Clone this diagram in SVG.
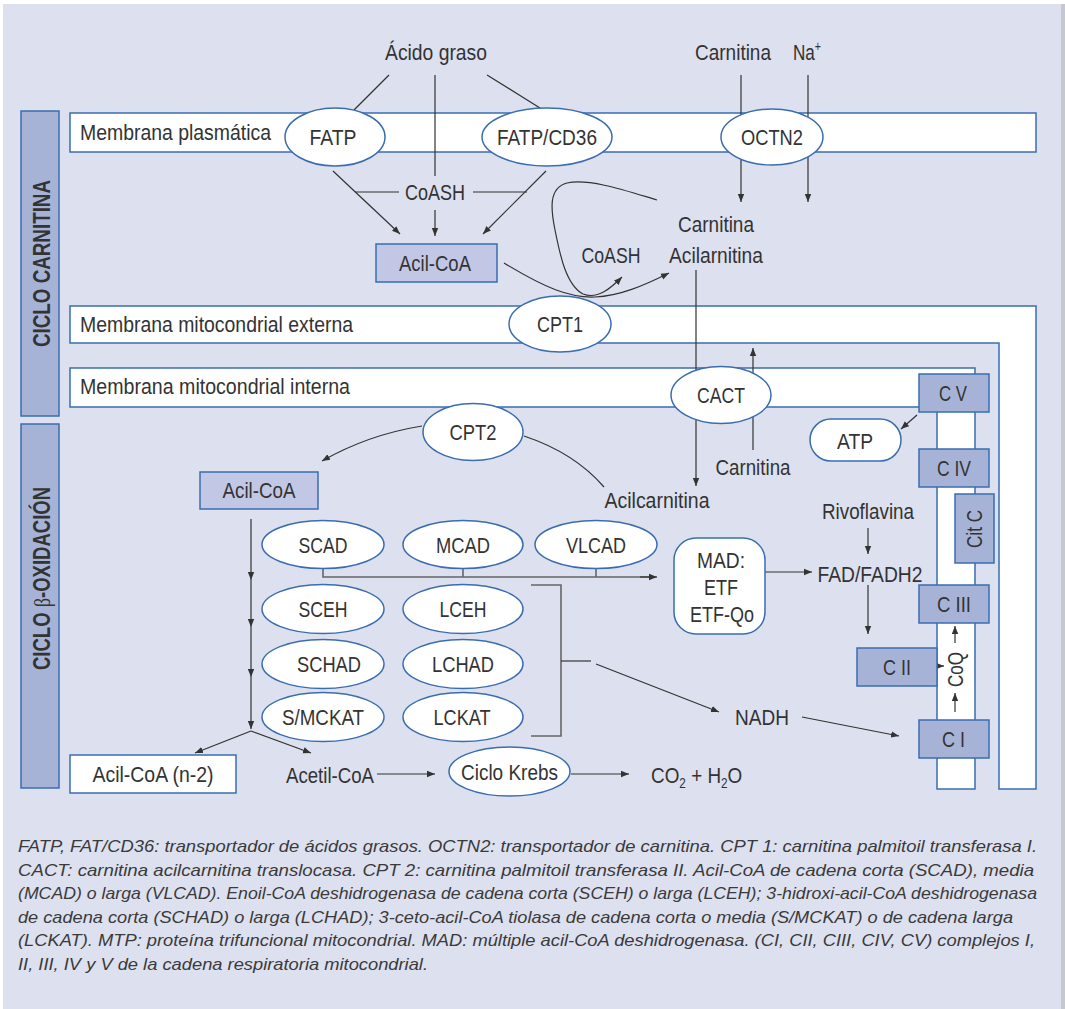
<svg xmlns="http://www.w3.org/2000/svg" width="1065" height="1009" viewBox="0 0 1065 1009">
<style>
.t{font-family:"Liberation Sans",Arial,sans-serif;font-size:22.5px;fill:#333}
.sm{font-size:14px}
.m{text-anchor:middle}
.b{font-weight:bold;font-size:23px;fill:#333}
.cap{font-family:"Liberation Sans",Arial,sans-serif;font-size:17px;font-style:italic;fill:#3a3a3a}
.mem{fill:#fff;stroke:#3a6db0;stroke-width:1.5}
.ell{fill:#fff;stroke:#3a6db0;stroke-width:1.5}
.cx{fill:#a6b3d7;stroke:#3a6db0;stroke-width:1.5}
.box{fill:#c1c7e4;stroke:#3a6db0;stroke-width:1.5}
.ln{stroke:#333;stroke-width:1.2;fill:none}
.gl{stroke:#666;stroke-width:1.6;fill:none}
.ar{marker-end:url(#ah)}
</style>
<defs>
<marker id="ah" viewBox="0 0 10 10" refX="10" refY="5" markerWidth="8" markerHeight="8" markerUnits="userSpaceOnUse" orient="auto">
<path d="M0,1 L10,5 L0,9 z" fill="#333"/>
</marker>
</defs>

<rect x="3" y="4" width="1059" height="1005" fill="#dde0ef"/>
<rect x="1061" y="4" width="4" height="1005" fill="#c6c8d0"/>

<g id="bar-carnitina">
<rect class="cx" x="21" y="111" width="38" height="305"/>
<text class="t b m" transform="translate(50,263.5) rotate(-90)" textLength="167" lengthAdjust="spacingAndGlyphs">CICLO CARNITINA</text>
</g>
<g id="bar-beta">
<rect class="cx" x="21" y="424" width="38" height="364"/>
<text class="t b m" transform="translate(50,578.5) rotate(-90)" textLength="183" lengthAdjust="spacingAndGlyphs">CICLO <tspan font-family="'Liberation Serif',serif" font-weight="normal">β</tspan>-OXIDACIÓN</text>
</g>

<g id="membrana-plasmatica">
<rect class="mem" x="70" y="113" width="966" height="39"/>
<text class="t" x="80" y="140" textLength="191" lengthAdjust="spacingAndGlyphs">Membrana plasmática</text>
</g>
<g id="membrana-externa">
<polygon class="mem" points="70,306 1036,306 1036,789 999,789 999,343 70,343"/>
<text class="t" x="80" y="332" textLength="273" lengthAdjust="spacingAndGlyphs">Membrana mitocondrial externa</text>
</g>
<g id="membrana-interna">
<polygon class="mem" points="70,368 975,368 975,789 937,789 937,407 70,407"/>
<text class="t" x="80" y="394" textLength="270" lengthAdjust="spacingAndGlyphs">Membrana mitocondrial interna</text>
</g>

<g id="connectors">
<line class="ln" x1="389" y1="75" x2="354" y2="110"/>
<line class="ln" x1="487" y1="75" x2="540" y2="108"/>
<line class="ln" x1="435" y1="75" x2="435" y2="176"/>
<line class="ln" x1="355" y1="192" x2="399" y2="192"/>
<line class="ln" x1="473" y1="192" x2="527" y2="192"/>
<line class="ln ar" x1="333" y1="171" x2="400" y2="234"/>
<line class="ln ar" x1="546" y1="171" x2="483" y2="234"/>
<line class="ln ar" x1="435" y1="210" x2="435" y2="236"/>
<line class="ln ar" x1="741" y1="75" x2="741" y2="202"/>
<line class="ln ar" x1="808" y1="75" x2="808" y2="202"/>
<path class="ln ar" d="M504,263 C545,288 570,298 595,297 C620,296 645,285 669,273"/>
<path class="ln ar" d="M657,200 C630,192 590,178 567,183 C548,188 551,210 555,230 C560,255 566,285 583,294 C598,300 612,287 622,277"/>
<line class="ln ar" x1="696" y1="270" x2="696" y2="486"/>
<line class="ln ar" x1="753" y1="450" x2="753" y2="348"/>
<path class="ln ar" d="M422,426 C385,432 350,445 322,461"/>
<path class="ln" d="M524,436 C560,448 585,465 604,487"/>
<line class="ln ar" x1="251" y1="519" x2="251" y2="580"/>
<line class="ln ar" x1="251" y1="580" x2="251" y2="627"/>
<line class="ln ar" x1="251" y1="627" x2="251" y2="677"/>
<line class="ln ar" x1="251" y1="677" x2="251" y2="729"/>
<line class="ln ar" x1="251" y1="731" x2="195" y2="753"/>
<line class="ln ar" x1="251" y1="731" x2="311" y2="753"/>
<path class="gl" d="M323,568 V577 H655"/>
<line class="ln ar" x1="640" y1="577" x2="657" y2="577"/>
<line class="gl" x1="463" y1="568" x2="463" y2="577"/>
<line class="gl" x1="596" y1="568" x2="596" y2="577"/>
<path class="gl" d="M531,585 H561 V736 H531"/>
<line class="ln" x1="561" y1="661" x2="591" y2="661"/>
<line class="ln ar" x1="596" y1="664" x2="719" y2="712"/>
<line class="ln ar" x1="802" y1="717" x2="899" y2="736"/>
<line class="ln ar" x1="765" y1="572" x2="812" y2="572"/>
<line class="ln ar" x1="868" y1="528" x2="868" y2="554"/>
<line class="ln ar" x1="868" y1="585" x2="868" y2="634"/>
<line class="ln ar" x1="919" y1="666" x2="944" y2="666"/>
<line class="ln ar" x1="955" y1="712" x2="955" y2="693"/>
<line class="ln ar" x1="955" y1="643" x2="955" y2="626"/>
<line class="ln ar" x1="917" y1="415" x2="901" y2="429"/>
<line class="ln ar" x1="377" y1="774" x2="435" y2="774"/>
<line class="ln ar" x1="571" y1="774" x2="629" y2="774"/>
</g>

<g id="acido-graso"><text class="t m" x="436" y="60" textLength="102" lengthAdjust="spacingAndGlyphs">Ácido graso</text></g>
<g id="carnitina-ext"><text class="t m" x="733" y="60" textLength="76" lengthAdjust="spacingAndGlyphs">Carnitina</text></g>
<g id="na"><text class="t" transform="translate(793,60) scale(0.76,1)">Na<tspan class="sm" dy="-9">+</tspan></text></g>

<g id="fatp"><ellipse class="ell" cx="335" cy="137" rx="50" ry="29"/><text class="t m" x="333" y="145" textLength="47" lengthAdjust="spacingAndGlyphs">FATP</text></g>
<g id="fatp-cd36"><ellipse class="ell" cx="547" cy="137" rx="65" ry="29"/><text class="t m" x="547" y="145" textLength="100" lengthAdjust="spacingAndGlyphs">FATP/CD36</text></g>
<g id="octn2"><ellipse class="ell" cx="772" cy="137" rx="51" ry="28"/><text class="t m" x="772" y="145" textLength="62" lengthAdjust="spacingAndGlyphs">OCTN2</text></g>

<g id="coash-1"><text class="t m" x="435" y="200" textLength="60" lengthAdjust="spacingAndGlyphs">CoASH</text></g>
<g id="acil-coa-1"><rect class="box" x="376" y="244" width="121" height="38"/><text class="t m" x="435" y="271" textLength="72" lengthAdjust="spacingAndGlyphs">Acil-CoA</text></g>
<g id="carnitina-acil"><text class="t m" x="716" y="232" textLength="76" lengthAdjust="spacingAndGlyphs">Carnitina</text><text class="t m" x="716" y="263" textLength="94" lengthAdjust="spacingAndGlyphs">Acilarnitina</text></g>
<g id="coash-2"><text class="t m" x="611" y="263" textLength="59" lengthAdjust="spacingAndGlyphs">CoASH</text></g>

<g id="cpt1"><ellipse class="ell" cx="560" cy="324" rx="51" ry="28"/><text class="t m" x="560" y="332" textLength="46" lengthAdjust="spacingAndGlyphs">CPT1</text></g>
<g id="cact"><ellipse class="ell" cx="721" cy="395" rx="50" ry="28.5"/><text class="t m" x="721" y="403" textLength="48" lengthAdjust="spacingAndGlyphs">CACT</text></g>
<g id="cpt2"><ellipse class="ell" cx="473" cy="432" rx="50" ry="28.5"/><text class="t m" x="473" y="440" textLength="47" lengthAdjust="spacingAndGlyphs">CPT2</text></g>
<g id="carnitina-int"><text class="t m" x="753" y="475" textLength="75" lengthAdjust="spacingAndGlyphs">Carnitina</text></g>
<g id="acilcarnitina"><text class="t m" x="657" y="508" textLength="105" lengthAdjust="spacingAndGlyphs">Acilcarnitina</text></g>
<g id="acil-coa-2"><rect class="box" x="200" y="472" width="118" height="37"/><text class="t m" x="259" y="498" textLength="73" lengthAdjust="spacingAndGlyphs">Acil-CoA</text></g>

<g id="scad"><ellipse class="ell" cx="323" cy="544.5" rx="61" ry="24"/><text class="t m" x="323" y="552.5" textLength="49" lengthAdjust="spacingAndGlyphs">SCAD</text></g>
<g id="mcad"><ellipse class="ell" cx="463" cy="544.5" rx="60" ry="24"/><text class="t m" x="463" y="552.5" textLength="54" lengthAdjust="spacingAndGlyphs">MCAD</text></g>
<g id="vlcad"><ellipse class="ell" cx="596" cy="544.5" rx="61" ry="24"/><text class="t m" x="596" y="552.5" textLength="60" lengthAdjust="spacingAndGlyphs">VLCAD</text></g>
<g id="sceh"><ellipse class="ell" cx="323" cy="609" rx="61" ry="24.5"/><text class="t m" x="323" y="617" textLength="49" lengthAdjust="spacingAndGlyphs">SCEH</text></g>
<g id="lceh"><ellipse class="ell" cx="463" cy="609" rx="60" ry="24.5"/><text class="t m" x="463" y="617" textLength="47" lengthAdjust="spacingAndGlyphs">LCEH</text></g>
<g id="schad"><ellipse class="ell" cx="323" cy="664" rx="61" ry="24.5"/><text class="t m" x="329" y="672" textLength="64" lengthAdjust="spacingAndGlyphs">SCHAD</text></g>
<g id="lchad"><ellipse class="ell" cx="463" cy="664" rx="60" ry="24.5"/><text class="t m" x="463" y="672" textLength="62" lengthAdjust="spacingAndGlyphs">LCHAD</text></g>
<g id="smckat"><ellipse class="ell" cx="323" cy="717" rx="61" ry="24.5"/><text class="t m" x="323" y="725" textLength="82" lengthAdjust="spacingAndGlyphs">S/MCKAT</text></g>
<g id="lckat"><ellipse class="ell" cx="463" cy="717" rx="60" ry="24.5"/><text class="t m" x="462" y="725" textLength="57" lengthAdjust="spacingAndGlyphs">LCKAT</text></g>

<g id="acil-coa-n2"><rect class="mem" x="70" y="755" width="166" height="38"/><text class="t m" x="153" y="782" textLength="121" lengthAdjust="spacingAndGlyphs">Acil-CoA (n-2)</text></g>
<g id="acetil-coa"><text class="t m" x="330" y="783" textLength="88" lengthAdjust="spacingAndGlyphs">Acetil-CoA</text></g>
<g id="ciclo-krebs"><ellipse class="ell" cx="509.5" cy="771.5" rx="60.5" ry="24.5"/><text class="t m" x="509.5" y="780" textLength="97" lengthAdjust="spacingAndGlyphs">Ciclo Krebs</text></g>
<g id="co2-h2o"><text class="t" transform="translate(651,783) scale(0.84,1)">CO<tspan class="sm" dy="5">2</tspan><tspan dy="-5"> + H</tspan><tspan class="sm" dy="5">2</tspan><tspan dy="-5">O</tspan></text></g>

<g id="mad"><rect class="ell" x="674" y="538" width="91" height="96" rx="22"/>
<text class="t m" x="721" y="568" textLength="48" lengthAdjust="spacingAndGlyphs">MAD:</text><text class="t m" x="721" y="595" textLength="34" lengthAdjust="spacingAndGlyphs">ETF</text><text class="t m" x="722" y="622" textLength="64" lengthAdjust="spacingAndGlyphs">ETF-Qo</text></g>
<g id="rivoflavina"><text class="t m" x="868" y="519" textLength="92" lengthAdjust="spacingAndGlyphs">Rivoflavina</text></g>
<g id="fad"><text class="t m" x="870" y="582" textLength="105" lengthAdjust="spacingAndGlyphs">FAD/FADH2</text></g>
<g id="nadh"><text class="t m" x="762" y="725" textLength="54" lengthAdjust="spacingAndGlyphs">NADH</text></g>
<g id="atp"><rect class="ell" x="810" y="419" width="91" height="42" rx="21"/><text class="t m" x="855" y="449" textLength="36" lengthAdjust="spacingAndGlyphs">ATP</text></g>

<g id="c-v"><rect class="cx" x="919" y="374" width="70" height="38"/><text class="t m" x="953" y="401" textLength="28" lengthAdjust="spacingAndGlyphs">C V</text></g>
<g id="c-iv"><rect class="cx" x="919" y="449" width="70" height="38"/><text class="t m" x="954" y="476" textLength="34" lengthAdjust="spacingAndGlyphs">C IV</text></g>
<g id="cit-c"><rect class="cx" x="955" y="494" width="39" height="69"/><text class="t m" transform="translate(982,529) rotate(-90)" textLength="38" lengthAdjust="spacingAndGlyphs">Cit C</text></g>
<g id="c-iii"><rect class="cx" x="919" y="585" width="70" height="38"/><text class="t m" x="954" y="612" textLength="34" lengthAdjust="spacingAndGlyphs">C III</text></g>
<g id="c-ii"><rect class="cx" x="857" y="648" width="80" height="38"/><text class="t m" x="897" y="675" textLength="28" lengthAdjust="spacingAndGlyphs">C II</text></g>
<g id="coq"><text class="t m" transform="translate(963,669.5) rotate(-90)" textLength="35" lengthAdjust="spacingAndGlyphs">CoQ</text></g>
<g id="c-i"><rect class="cx" x="919" y="720" width="70" height="38"/><text class="t m" x="953.5" y="747" textLength="23" lengthAdjust="spacingAndGlyphs">C I</text></g>

<g id="caption">
<text class="cap" x="18" y="852" textLength="1019" lengthAdjust="spacingAndGlyphs">FATP, FAT/CD36: transportador de ácidos grasos. OCTN2: transportador de carnitina. CPT 1: carnitina palmitoil transferasa I.</text>
<text class="cap" x="18" y="875.5" textLength="1016" lengthAdjust="spacingAndGlyphs">CACT: carnitina acilcarnitina translocasa. CPT 2: carnitina palmitoil transferasa II. Acil-CoA de cadena corta (SCAD), media</text>
<text class="cap" x="18" y="899" textLength="1019" lengthAdjust="spacingAndGlyphs">(MCAD) o larga (VLCAD). Enoil-CoA deshidrogenasa de cadena corta (SCEH) o larga (LCEH); 3-hidroxi-acil-CoA deshidrogenasa</text>
<text class="cap" x="18" y="922.5" textLength="995" lengthAdjust="spacingAndGlyphs">de cadena corta (SCHAD) o larga (LCHAD); 3-ceto-acil-CoA tiolasa de cadena corta o media (S/MCKAT) o de cadena larga</text>
<text class="cap" x="18" y="946" textLength="1017" lengthAdjust="spacingAndGlyphs">(LCKAT). MTP: proteína trifuncional mitocondrial. MAD: múltiple acil-CoA deshidrogenasa. (CI, CII, CIII, CIV, CV) complejos I,</text>
<text class="cap" x="18" y="969.5" textLength="410" lengthAdjust="spacingAndGlyphs">II, III, IV y V de la cadena respiratoria mitocondrial.</text>
</g>
</svg>
